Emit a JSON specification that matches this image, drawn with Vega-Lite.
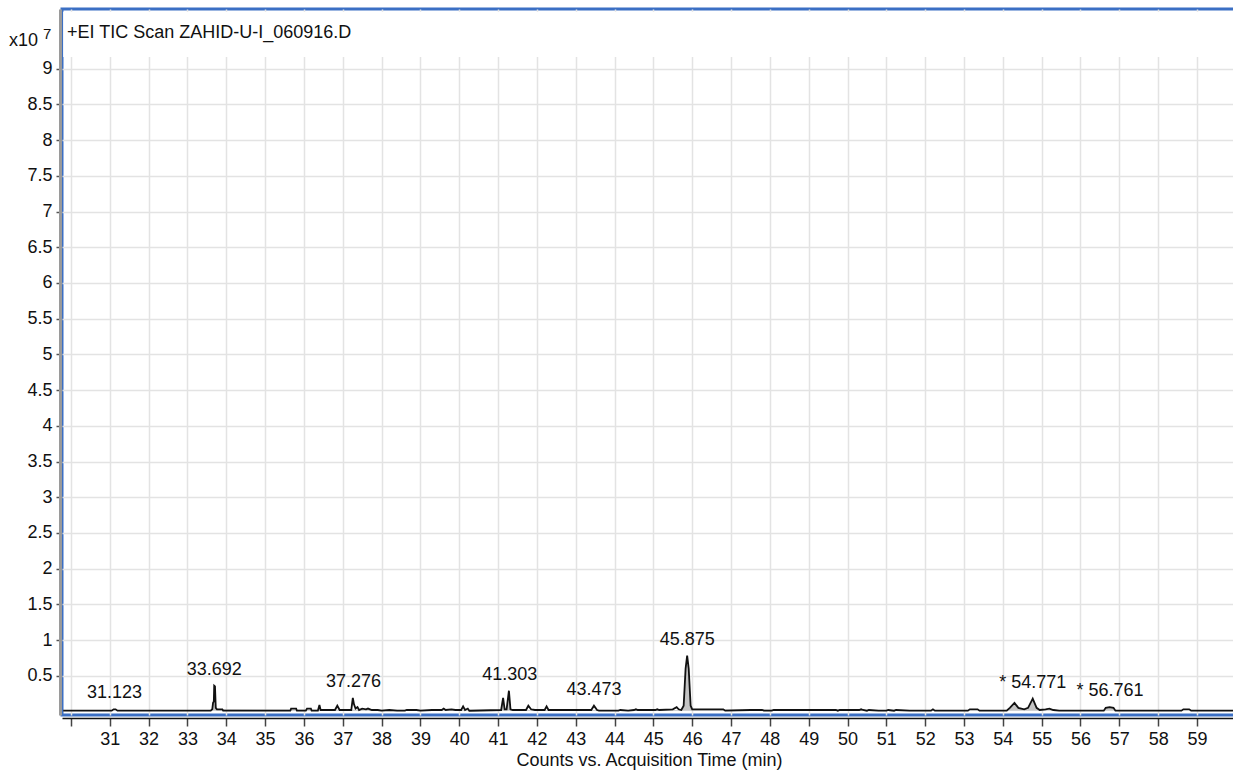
{
  "$schema": "https://vega.github.io/schema/vega-lite/v6.json",
  "width": 1174,
  "height": 706,
  "autosize": {"type": "none"},
  "padding": {"left": 62, "top": 9, "right": 0, "bottom": 65},
  "background": "white",
  "config": {
    "font": "Liberation Sans, Arial, sans-serif",
    "view": {"stroke": "#3b6fc4", "strokeWidth": 3}
  },
  "datasets": {
    "trace": [
      {"t": 29.80, "v": 0.01}, {"t": 31.05, "v": 0.01}, {"t": 31.10, "v": 0.03}, {"t": 31.15, "v": 0.03}, {"t": 31.20, "v": 0.01},
      {"t": 33.60, "v": 0.01}, {"t": 33.64, "v": 0.03}, {"t": 33.66, "v": 0.12}, {"t": 33.68, "v": 0.14}, {"t": 33.69, "v": 0.36},
      {"t": 33.71, "v": 0.35}, {"t": 33.73, "v": 0.05}, {"t": 33.76, "v": 0.03}, {"t": 33.90, "v": 0.03}, {"t": 33.92, "v": 0.01},
      {"t": 35.65, "v": 0.01}, {"t": 35.67, "v": 0.04}, {"t": 35.80, "v": 0.04}, {"t": 35.82, "v": 0.01},
      {"t": 36.05, "v": 0.01}, {"t": 36.08, "v": 0.04}, {"t": 36.18, "v": 0.04}, {"t": 36.20, "v": 0.01},
      {"t": 36.36, "v": 0.01}, {"t": 36.40, "v": 0.09}, {"t": 36.43, "v": 0.02}, {"t": 36.80, "v": 0.02}, {"t": 36.86, "v": 0.08},
      {"t": 36.92, "v": 0.02}, {"t": 37.22, "v": 0.02}, {"t": 37.26, "v": 0.19}, {"t": 37.29, "v": 0.10}, {"t": 37.33, "v": 0.04},
      {"t": 37.38, "v": 0.06}, {"t": 37.42, "v": 0.02}, {"t": 37.50, "v": 0.04}, {"t": 37.60, "v": 0.03}, {"t": 37.65, "v": 0.04},
      {"t": 37.75, "v": 0.02}, {"t": 37.90, "v": 0.02}, {"t": 38.00, "v": 0.01}, {"t": 38.20, "v": 0.02}, {"t": 38.40, "v": 0.01},
      {"t": 38.60, "v": 0.01}, {"t": 38.65, "v": 0.02}, {"t": 38.90, "v": 0.02}, {"t": 39.00, "v": 0.01}, {"t": 39.30, "v": 0.02},
      {"t": 39.55, "v": 0.02}, {"t": 39.60, "v": 0.04}, {"t": 39.65, "v": 0.02}, {"t": 39.80, "v": 0.03}, {"t": 39.90, "v": 0.02},
      {"t": 40.05, "v": 0.02}, {"t": 40.10, "v": 0.07}, {"t": 40.15, "v": 0.02}, {"t": 40.22, "v": 0.04}, {"t": 40.26, "v": 0.01},
      {"t": 41.08, "v": 0.02}, {"t": 41.13, "v": 0.19}, {"t": 41.17, "v": 0.03}, {"t": 41.22, "v": 0.03}, {"t": 41.28, "v": 0.29},
      {"t": 41.32, "v": 0.03}, {"t": 41.38, "v": 0.02}, {"t": 41.72, "v": 0.02}, {"t": 41.78, "v": 0.08}, {"t": 41.85, "v": 0.03},
      {"t": 41.95, "v": 0.02}, {"t": 42.20, "v": 0.02}, {"t": 42.25, "v": 0.07}, {"t": 42.30, "v": 0.02}, {"t": 43.40, "v": 0.02},
      {"t": 43.47, "v": 0.08}, {"t": 43.55, "v": 0.02}, {"t": 43.60, "v": 0.01}, {"t": 44.10, "v": 0.01}, {"t": 44.15, "v": 0.02},
      {"t": 44.35, "v": 0.01}, {"t": 44.50, "v": 0.02}, {"t": 44.55, "v": 0.03}, {"t": 44.60, "v": 0.02}, {"t": 45.05, "v": 0.02},
      {"t": 45.10, "v": 0.03}, {"t": 45.15, "v": 0.02}, {"t": 45.50, "v": 0.03}, {"t": 45.60, "v": 0.06}, {"t": 45.65, "v": 0.03},
      {"t": 45.72, "v": 0.02}, {"t": 45.78, "v": 0.08}, {"t": 45.83, "v": 0.60}, {"t": 45.87, "v": 0.78}, {"t": 45.91, "v": 0.60},
      {"t": 45.96, "v": 0.08}, {"t": 46.00, "v": 0.03}, {"t": 46.80, "v": 0.03}, {"t": 46.85, "v": 0.01}, {"t": 47.50, "v": 0.02},
      {"t": 47.80, "v": 0.02}, {"t": 47.85, "v": 0.01}, {"t": 48.05, "v": 0.01}, {"t": 48.10, "v": 0.02}, {"t": 49.70, "v": 0.02},
      {"t": 49.75, "v": 0.01}, {"t": 49.80, "v": 0.02}, {"t": 50.30, "v": 0.02}, {"t": 50.35, "v": 0.03}, {"t": 50.40, "v": 0.02},
      {"t": 50.50, "v": 0.01}, {"t": 50.55, "v": 0.02}, {"t": 50.80, "v": 0.01}, {"t": 51.00, "v": 0.01}, {"t": 51.05, "v": 0.02},
      {"t": 51.20, "v": 0.01}, {"t": 51.25, "v": 0.02}, {"t": 51.60, "v": 0.01}, {"t": 52.15, "v": 0.01}, {"t": 52.20, "v": 0.03},
      {"t": 52.25, "v": 0.01}, {"t": 53.10, "v": 0.01}, {"t": 53.15, "v": 0.03}, {"t": 53.35, "v": 0.03}, {"t": 53.40, "v": 0.01},
      {"t": 54.10, "v": 0.01}, {"t": 54.18, "v": 0.05}, {"t": 54.30, "v": 0.12}, {"t": 54.40, "v": 0.05}, {"t": 54.55, "v": 0.03},
      {"t": 54.65, "v": 0.05}, {"t": 54.77, "v": 0.18}, {"t": 54.87, "v": 0.05}, {"t": 54.95, "v": 0.02}, {"t": 55.10, "v": 0.03},
      {"t": 55.20, "v": 0.04}, {"t": 55.30, "v": 0.02}, {"t": 55.45, "v": 0.01}, {"t": 56.60, "v": 0.01}, {"t": 56.65, "v": 0.05},
      {"t": 56.75, "v": 0.06}, {"t": 56.85, "v": 0.05}, {"t": 56.90, "v": 0.01}, {"t": 58.60, "v": 0.01}, {"t": 58.65, "v": 0.03},
      {"t": 58.80, "v": 0.03}, {"t": 58.85, "v": 0.01}, {"t": 59.98, "v": 0.01}
    ],
    "peaks": [
      {"t": 31.123, "h": 0.03, "label": "31.123"},
      {"t": 33.692, "h": 0.36, "label": "33.692"},
      {"t": 37.276, "h": 0.19, "label": "37.276"},
      {"t": 41.303, "h": 0.29, "label": "41.303"},
      {"t": 43.473, "h": 0.08, "label": "43.473"},
      {"t": 45.875, "h": 0.78, "label": "45.875"},
      {"t": 54.771, "h": 0.18, "label": "* 54.771"},
      {"t": 56.761, "h": 0.06, "label": "* 56.761"}
    ]
  },
  "layer": [
    {
      "data": {"values": [{"x1": 29.80, "x2": 59.98, "y1": 9.165, "y2": 9.80}]},
      "mark": {"type": "rect", "fill": "white"},
      "encoding": {
        "x": {
          "field": "x1", "type": "quantitative",
          "scale": {"domain": [29.77, 60.005], "nice": false, "zero": false},
          "axis": {
            "values": [30,31,32,33,34,35,36,37,38,39,40,41,42,43,44,45,46,47,48,49,50,51,52,53,54,55,56,57,58,59],
            "labelExpr": "datum.value == 30 ? '' : datum.label",
            "title": "Counts vs. Acquisition Time (min)",
            "titleFontSize": 18, "titleFontWeight": "normal", "titleColor": "#111", "titlePadding": 3,
            "labelFontSize": 18, "labelColor": "#111", "labelPadding": 4, "labelFlush": false,
            "tickSize": 8, "tickColor": "#444", "tickWidth": 1.5,
            "domainColor": "#111", "domainWidth": 1.5, "offset": 3,
            "grid": true, "gridColor": "#e3e3e3", "gridWidth": 1.5
          }
        },
        "x2": {"field": "x2"},
        "y": {
          "field": "y1", "type": "quantitative",
          "scale": {"domain": [-0.05, 9.837], "nice": false, "zero": false},
          "axis": {
            "values": [0.5,1,1.5,2,2.5,3,3.5,4,4.5,5,5.5,6,6.5,7,7.5,8,8.5,9],
            "format": "~g",
            "title": null,
            "labelFontSize": 18, "labelColor": "#111", "labelPadding": 4,
            "tickSize": 4, "tickColor": "#555", "tickWidth": 1.5,
            "domainColor": "#9a9a9a", "domainWidth": 3, "offset": 2,
            "grid": true, "gridColor": "#e3e3e3", "gridWidth": 1.5
          }
        },
        "y2": {"field": "y2"}
      }
    },
    {
      "data": {"name": "trace"},
      "transform": [{"filter": {"or": [
        {"field": "t", "range": [33.64, 33.76]},
        {"field": "t", "range": [41.08, 41.38]},
        {"field": "t", "range": [45.72, 46.00]},
        {"field": "t", "range": [54.10, 54.95]},
        {"field": "t", "range": [56.60, 56.90]}
      ]}}],
      "mark": {"type": "area", "fill": "#c4c4c4", "opacity": 1},
      "encoding": {
        "x": {"field": "t", "type": "quantitative"},
        "y": {"field": "v", "type": "quantitative"},
        "y2": {"datum": 0.01}
      }
    },
    {
      "data": {"name": "trace"},
      "mark": {"type": "line", "color": "#111", "strokeWidth": 1.8, "interpolate": "linear"},
      "encoding": {
        "x": {"field": "t", "type": "quantitative"},
        "y": {"field": "v", "type": "quantitative"}
      }
    },
    {
      "data": {"name": "peaks"},
      "mark": {"type": "text", "fontSize": 18, "color": "#111", "align": "center", "baseline": "alphabetic", "dy": -11},
      "encoding": {
        "x": {"field": "t", "type": "quantitative"},
        "y": {"field": "h", "type": "quantitative"},
        "text": {"field": "label"}
      }
    },
    {
      "data": {"values": [{"label": "+EI TIC Scan ZAHID-U-I_060916.D"}]},
      "mark": {"type": "text", "fontSize": 18, "color": "#111", "align": "left", "baseline": "middle", "dx": 5},
      "encoding": {
        "x": {"datum": 29.77},
        "y": {"datum": 9.50},
        "text": {"field": "label"}
      }
    },
    {
      "data": {"values": [{"label": "x10"}]},
      "mark": {"type": "text", "fontSize": 18, "color": "#111", "align": "right", "baseline": "middle", "dx": -24},
      "encoding": {
        "x": {"datum": 29.77},
        "y": {"datum": 9.39},
        "text": {"field": "label"}
      }
    },
    {
      "data": {"values": [{"label": "7"}]},
      "mark": {"type": "text", "fontSize": 15, "color": "#111", "align": "left", "baseline": "middle", "dx": -19},
      "encoding": {
        "x": {"datum": 29.77},
        "y": {"datum": 9.48},
        "text": {"field": "label"}
      }
    }
  ]
}
